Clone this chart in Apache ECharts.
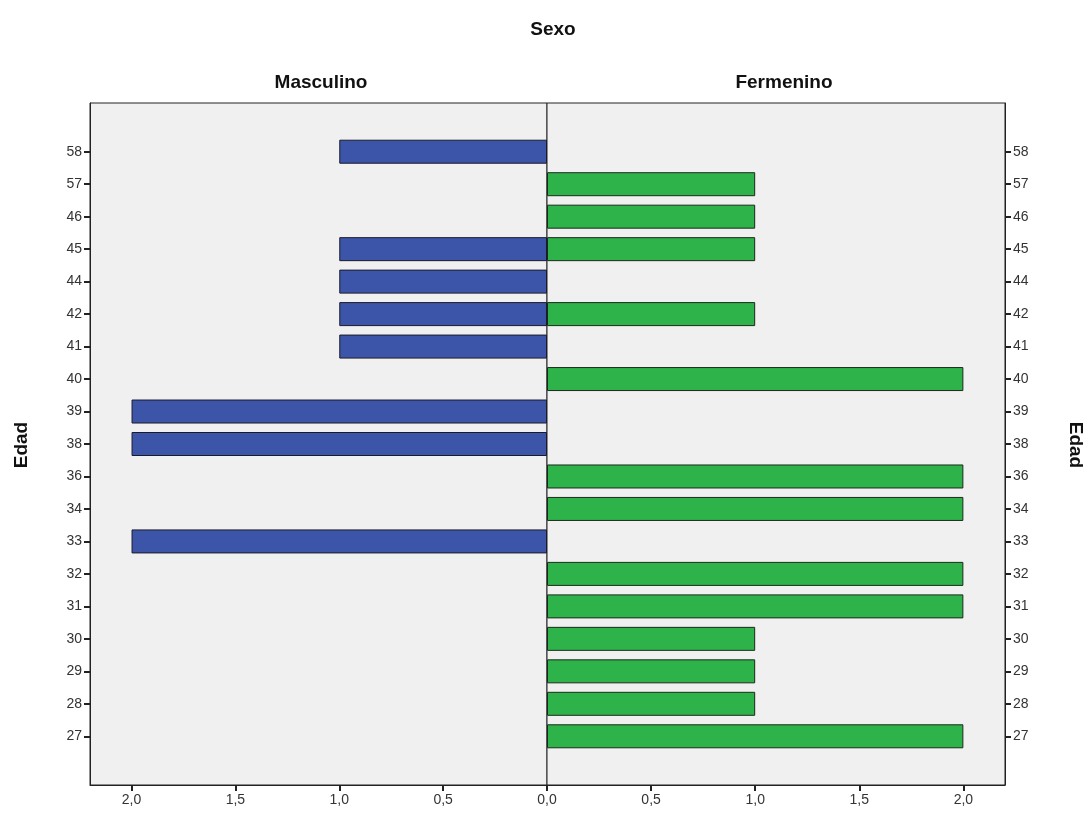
<!DOCTYPE html>
<html>
<head>
<meta charset="utf-8">
<script src="https://cdn.jsdelivr.net/npm/echarts@6/dist/echarts.min.js"></script>
<style>html,body{margin:0;padding:0;background:#fff;}#c{width:1090px;height:825px;}</style>
</head>
<body>
<div id="c"></div>
<script>
const ages = ['58','57','46','45','44','42','41','40','39','38','36','34','33','32','31','30','29','28','27'];
const masculino = [1,0,0,1,1,1,1,0,2,2,0,0,2,0,0,0,0,0,0];
const fermenino = [0,1,1,1,0,1,0,2,0,0,2,2,0,2,2,1,1,1,2];
const xTickValues = [0, 0.5, 1, 1.5, 2];

const cats = [' '].concat(ages, ['  ']);
const pad = arr => [null].concat(arr.map(v => v ? v : null), [null]);
const FONT = '"Liberation Sans", Arial, sans-serif';
const fmtX = v => v.toFixed(1).replace('.', ',');
const tickFn = (i) => i > 0 && i < cats.length - 1;

const chart = echarts.init(document.getElementById('c'), null, {renderer: 'canvas'});
const xCommon = {
  type: 'value', min: 0, max: 2.2, interval: 0.5,
  splitLine: {show: false},
  axisLine: {show: true, onZero: false, lineStyle: {color: '#222', width: 1}},
  axisTick: {show: true, length: 6, customValues: xTickValues, lineStyle: {color: '#222', width: 2}},
  axisLabel: {formatter: fmtX, customValues: xTickValues, color: '#333', fontSize: 14, fontFamily: FONT, margin: 8}
};
const yCommon = {
  type: 'category', data: cats, inverse: true,
  axisLine: {show: true, onZero: false, lineStyle: {color: '#222', width: 1}},
  axisTick: {show: true, alignWithLabel: true, interval: tickFn, length: 6, lineStyle: {color: '#222', width: 2}},
  axisLabel: {color: '#333', fontSize: 14, fontFamily: FONT, margin: 8, interval: 0},
  splitLine: {show: false}
};
chart.setOption({
  animation: false,
  backgroundColor: '#fff',
  title: [
    {text: 'Sexo', left: 548, top: 15, textAlign: 'center', textStyle: {fontSize: 19, fontWeight: 'bold', color: '#111', fontFamily: FONT}},
    {text: 'Masculino', left: 316, top: 68, textAlign: 'center', textStyle: {fontSize: 19, fontWeight: 'bold', color: '#111', fontFamily: FONT}},
    {text: 'Fermenino', left: 779, top: 68, textAlign: 'center', textStyle: {fontSize: 19, fontWeight: 'bold', color: '#111', fontFamily: FONT}}
  ],
  graphic: [
    {type: 'text', x: 22, y: 445, rotation: Math.PI / 2, style: {text: 'Edad', font: 'bold 19px ' + FONT, fill: '#111', align: 'center', verticalAlign: 'middle'}},
    {type: 'text', x: 1075, y: 445, rotation: -Math.PI / 2, style: {text: 'Edad', font: 'bold 19px ' + FONT, fill: '#111', align: 'center', verticalAlign: 'middle'}}
  ],
  grid: [
    {left: 90, top: 103, width: 457, height: 682, show: true, backgroundColor: '#f0f0f0', borderColor: '#222', borderWidth: 1},
    {left: 547, top: 103, width: 458, height: 682, show: true, backgroundColor: '#f0f0f0', borderColor: '#222', borderWidth: 1}
  ],
  xAxis: [
    Object.assign({}, xCommon, {gridIndex: 0, inverse: true, position: 'bottom'}),
    Object.assign({}, xCommon, {gridIndex: 1, position: 'bottom',
      axisLabel: Object.assign({}, xCommon.axisLabel, {customValues: [0.5, 1, 1.5, 2]})})
  ],
  yAxis: [
    Object.assign({}, yCommon, {gridIndex: 0, position: 'left'}),
    Object.assign({}, yCommon, {gridIndex: 1, position: 'right'})
  ],
  series: [
    {type: 'bar', name: 'Masculino', xAxisIndex: 0, yAxisIndex: 0, data: pad(masculino), barWidth: 24,
     itemStyle: {color: '#3d55a8', borderColor: '#1a1a2a', borderWidth: 1}},
    {type: 'bar', name: 'Fermenino', xAxisIndex: 1, yAxisIndex: 1, data: pad(fermenino), barWidth: 24,
     itemStyle: {color: '#2db34a', borderColor: '#1a2a1a', borderWidth: 1}}
  ]
});
</script>
</body>
</html>
